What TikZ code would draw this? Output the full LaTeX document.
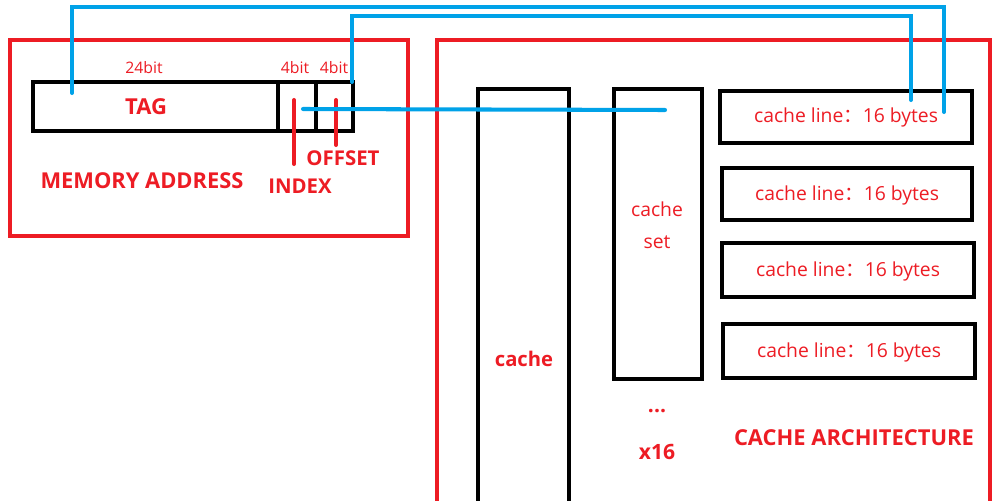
\documentclass[tikz,border=0pt]{standalone}
\usepackage{fontspec}
\setmainfont{Open Sans}
\newfontfamily\cjk{Noto Sans CJK SC}
\definecolor{pred}{HTML}{ED1C24}
\definecolor{pblue}{HTML}{00A2E8}
\newcommand{\fwcolon}{{\cjk ：}}
\begin{document}
\begin{tikzpicture}[x=0.02cm,y=-0.02cm,
  redframe/.style={draw=pred,line width=2.3pt},
  blk/.style={draw=black,line width=2.3pt,inner sep=0pt,rectangle},
  bl/.style={draw=pblue,line width=2.3pt,line cap=round},
  rbar/.style={draw=pred,line width=2.3pt,line cap=round},
  rtxt/.style={text=pred,inner sep=0pt},
  lbl/.style={rtxt,font=\fontsize{9}{11}\selectfont},
  big/.style={rtxt,font=\bfseries\fontsize{11.6}{14}\selectfont},
  linetxt/.style={rtxt,font=\fontsize{11}{13}\selectfont},
  title/.style={rtxt,font=\bfseries\fontsize{12}{14}\selectfont}
]
\useasboundingbox (0,0) rectangle (1000,500);
\clip (0,0) rectangle (1000,500);
\fill[white] (0,0) rectangle (1000,500);

% memory address frame
\draw[redframe] (10,40) rectangle (408,236);
% address fields
\node[blk,minimum width=4.9cm,minimum height=0.98cm] (tagf) at (155.5,106.5) {};
\node[blk,minimum width=0.76cm,minimum height=0.98cm] (idxf) at (297,106.5) {};
\node[blk,minimum width=0.74cm,minimum height=0.98cm] (offf) at (334.5,106.5) {};
\node[rtxt,font=\bfseries\fontsize{12.5}{15}\selectfont] (tagt) at (146,107) {TAG};
\node[lbl] (b24) at (144,68) {24bit};
\node[lbl] (b4a) at (295,68) {4bit};
\node[lbl] (b4b) at (334,68) {4bit};
\draw[rbar] (294,100) -- (294,164);
\draw[rbar] (336,100) -- (336,145);
\node[big] (offt) at (343,158) {OFFSET};
\node[big] (idxt) at (300,186) {INDEX};
\node[rtxt] (mat) at (142,181) {\resizebox{4.06cm}{!}{\bfseries MEMORY ADDRESS}};

% cache architecture frame
\draw[redframe] (437,520) -- (437,40) -- (990,40) -- (990,520);
\node[blk,minimum width=1.82cm,minimum height=8.6cm] (cache) at (523.5,304) {};
\node[rtxt,font=\bfseries\fontsize{11.5}{14}\selectfont] (cachet) at (524,359) {cache};
\node[blk,minimum width=1.76cm,minimum height=5.8cm] (cset) at (658,234) {};
\node[linetxt,align=center] (csett) at (657,225) {cache\\[5pt]set};
\node[blk,minimum width=5.04cm,minimum height=1.04cm] (cl1) at (846,117) {};
\node[blk,minimum width=5.0cm,minimum height=1.04cm] (cl2) at (847,194) {};
\node[blk,minimum width=5.04cm,minimum height=1.08cm] (cl3) at (848,270) {};
\node[blk,minimum width=5.04cm,minimum height=1.08cm] (cl4) at (849,351) {};
\node[linetxt] (cl1t) at (846,117) {cache line\fwcolon 16 bytes};
\node[linetxt] (cl2t) at (847,195) {cache line\fwcolon 16 bytes};
\node[linetxt] (cl3t) at (848,271) {cache line\fwcolon 16 bytes};
\node[linetxt] (cl4t) at (849,352) {cache line\fwcolon 16 bytes};
\node[title] (dots) at (657,411) {...};
\node[title] (x16) at (657,452) {x16};
\node[rtxt] (cat) at (854,438) {\resizebox{4.8cm}{!}{\bfseries CACHE ARCHITECTURE}};

% blue connectors
\coordinate (tagpin) at (72,93);
\coordinate (offpin) at (352,82);
\coordinate (idxpin) at (303,109);
\coordinate (setpin) at (665,110);
\coordinate (cl1a) at (944,112);
\coordinate (cl1b) at (911,100);
\draw[bl] (tagpin) -- ++(0,-86) -| (cl1a);
\draw[bl] (offpin) -- ++(0,-66) -| (cl1b);
\draw[bl] (idxpin) -- (setpin);
\end{tikzpicture}
\end{document}
